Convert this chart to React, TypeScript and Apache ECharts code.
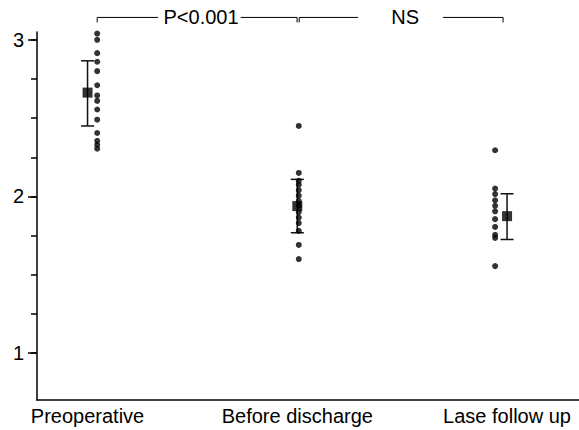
import React, { useEffect, useRef } from "react";
import * as echarts from "echarts";

// ---- data ----
const categories = ["Preoperative", "Before discharge", "Lase follow up"];
const categoryPositions = [1, 2, 3];
const yLabelValues = [1, 2, 3];
const yMinorTickValues = [1, 1.25, 1.5, 1.75, 2, 2.25, 2.5, 2.75, 3];

const preoperativeValues = [3.04, 3.0, 2.915, 2.86, 2.8, 2.71, 2.645, 2.61, 2.555, 2.49, 2.405, 2.355, 2.33, 2.305];
const beforeDischargeValues = [2.45, 2.15, 2.1, 2.075, 2.04, 2.005, 1.97, 1.94, 1.9, 1.865, 1.83, 1.78, 1.69, 1.6];
const followUpValues = [2.295, 2.05, 2.015, 1.975, 1.94, 1.905, 1.855, 1.805, 1.755, 1.735, 1.555];

const meanValues = [2.663, 1.938, 1.874];
const errorLower = [2.45, 1.768, 1.725];
const errorUpper = [2.866, 2.109, 2.017];

const bracketLabels = ["P<0.001", "NS"];

// ---- layout constants ----
const dotOffsets = [0.046, 0.007, -0.057];
const meanOffsets = [0, 0, 0.0];
const bracketLevel = 3.143;
// [leftEnd, leftLineEnd, textCenter, rightLineStart, rightEnd]
const bracketGeom = [
  [1.046, 1.336, 1.541, 1.73, 1.999],
  [2.009, 2.29, 2.514, 2.695, 2.981],
];

const FONT = "'Liberation Sans', Arial, sans-serif";
const INK = "#000";
const FS = 20;

export default function App() {
  const ref = useRef<HTMLDivElement>(null);
  useEffect(() => {
    if (!ref.current) return;
    const chart = echarts.init(ref.current, null, { renderer: "svg" });

    const groups = [preoperativeValues, beforeDischargeValues, followUpValues];
    const dots: number[][] = [];
    groups.forEach((vals, gi) => {
      vals.forEach((v) => dots.push([categoryPositions[gi] + dotOffsets[gi], v]));
    });
    const means = meanValues.map((m, i) => [categoryPositions[i] + meanOffsets[i], m]);
    const errs = meanValues.map((_, i) => [categoryPositions[i] + meanOffsets[i], errorLower[i], errorUpper[i]]);
    const brackets = bracketGeom.map((g, i) => [...g, i]);

    chart.setOption({
      animation: false,
      backgroundColor: "#fff",
      grid: { left: 37, right: 0, top: 32, bottom: 30, containLabel: false },
      xAxis: {
        type: "value",
        min: 0.759,
        max: 3.343,
        splitLine: { show: false },
        axisLine: { onZero: false, lineStyle: { color: INK, width: 1.5 } },
        axisTick: { show: false },
        axisLabel: {
          customValues: categoryPositions,
          formatter: (v: number) => categories[Math.round(v) - 1] ?? "",
          color: INK,
          fontFamily: FONT,
          fontSize: FS,
          margin: 6,
        },
      },
      yAxis: [
        {
          type: "value",
          min: 0.7,
          max: 3.05,
          position: "left",
          splitLine: { show: false },
          axisLine: { show: true, onZero: false, lineStyle: { color: INK, width: 1.5 } },
          axisTick: { show: true, length: 9, customValues: yLabelValues, lineStyle: { color: INK, width: 1.5 } },
          axisLabel: {
            customValues: yLabelValues,
            color: INK,
            fontFamily: FONT,
            fontSize: FS,
            margin: 13,
          },
        },
        {
          type: "value",
          min: 0.7,
          max: 3.05,
          position: "left",
          offset: 0,
          splitLine: { show: false },
          axisLine: { show: false },
          axisTick: { show: true, length: 6, customValues: yMinorTickValues, lineStyle: { color: INK, width: 1.5 } },
          axisLabel: { show: false },
        },
      ],
      series: [
        {
          type: "custom",
          clip: false,
          z: 2,
          data: errs,
          renderItem: (params: any, api: any) => {
            const x = api.value(0);
            const lo = api.coord([x, api.value(1)]);
            const hi = api.coord([x, api.value(2)]);
            const w = 6.5;
            const style = { stroke: "#111", lineWidth: 1.5 };
            return {
              type: "group",
              children: [
                { type: "line", shape: { x1: lo[0], y1: lo[1], x2: hi[0], y2: hi[1] }, style },
                { type: "line", shape: { x1: lo[0] - w, y1: lo[1], x2: lo[0] + w, y2: lo[1] }, style },
                { type: "line", shape: { x1: hi[0] - w, y1: hi[1], x2: hi[0] + w, y2: hi[1] }, style },
              ],
            };
          },
        },
        {
          type: "scatter",
          z: 3,
          symbol: "circle",
          symbolSize: 6,
          itemStyle: { color: INK },
          data: dots,
        },
        {
          type: "scatter",
          z: 4,
          symbol: "rect",
          symbolSize: 10,
          itemStyle: { color: INK },
          data: means,
        },
        {
          type: "custom",
          clip: false,
          z: 5,
          data: brackets,
          renderItem: (params: any, api: any) => {
            const p = [0, 1, 2, 3, 4].map((k) => api.coord([api.value(k), bracketLevel]));
            const label = bracketLabels[api.value(5)];
            const drop = 5;
            const style = { stroke: INK, lineWidth: 1 };
            return {
              type: "group",
              children: [
                { type: "line", shape: { x1: p[0][0], y1: p[0][1] + drop, x2: p[0][0], y2: p[0][1] }, style },
                { type: "line", shape: { x1: p[0][0], y1: p[0][1], x2: p[1][0], y2: p[1][1] }, style },
                { type: "line", shape: { x1: p[3][0], y1: p[3][1], x2: p[4][0], y2: p[4][1] }, style },
                { type: "line", shape: { x1: p[4][0], y1: p[4][1], x2: p[4][0], y2: p[4][1] + drop }, style },
                {
                  type: "text",
                  x: p[2][0],
                  y: p[2][1],
                  style: {
                    text: label,
                    fill: INK,
                    font: `${FS}px ${FONT}`,
                    align: "center",
                    verticalAlign: "middle",
                  },
                },
              ],
            };
          },
        },
      ],
    });
    return () => chart.dispose();
  }, []);

  return (
    <div
      ref={ref}
      style={{ position: "absolute", left: 0, top: 0, width: 579, height: 430, background: "#fff" }}
    />
  );
}
